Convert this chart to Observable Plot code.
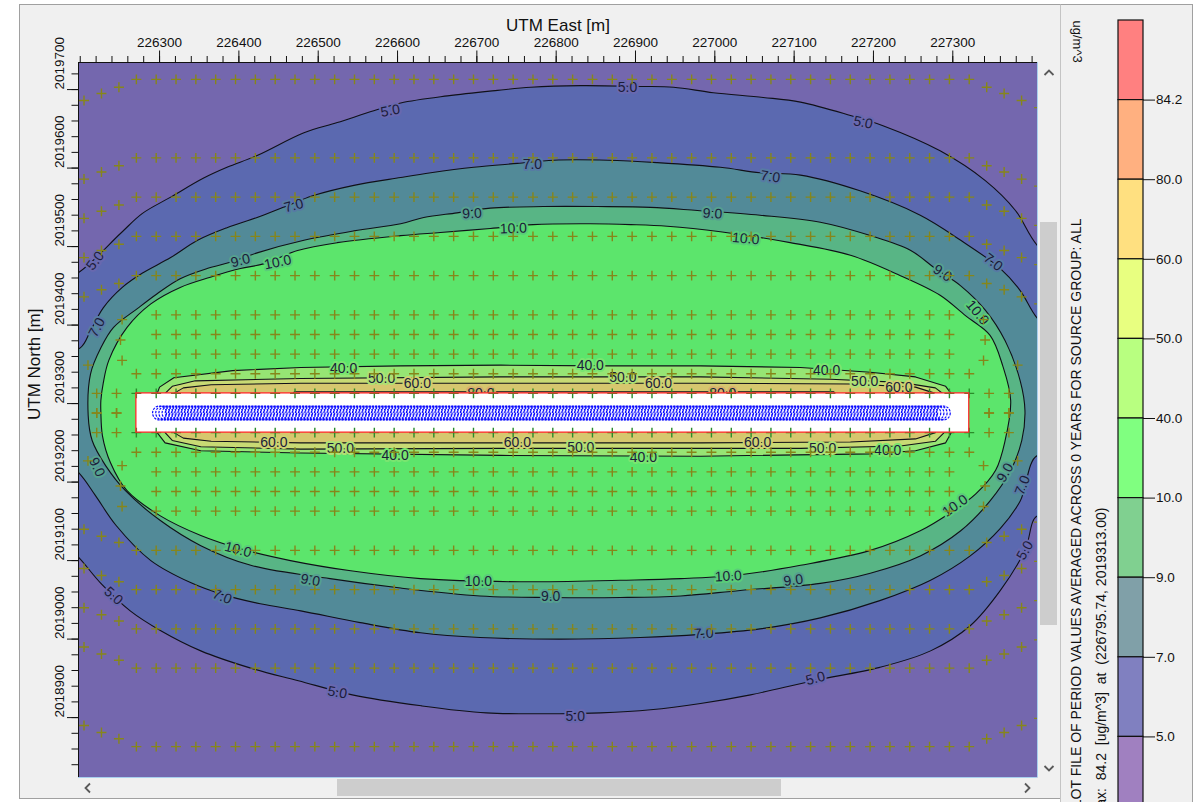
<!DOCTYPE html>
<html>
<head>
<meta charset="utf-8">
<script src="https://cdn.jsdelivr.net/npm/d3@7"></script>
<script src="https://cdn.jsdelivr.net/npm/@observablehq/plot@0.6"></script>
<style>
  html, body { margin: 0; padding: 0; }
  body { position: relative; width: 1201px; height: 802px; overflow: hidden; background: #ffffff;
         font-family: "Liberation Sans", Arial, sans-serif; }
  .abs { position: absolute; box-sizing: border-box; }
  #win { left: 19px; top: 4px; width: 1042px; height: 795px; background: #f0f0f0;
         border-left: 1px solid #a0a0a0; border-top: 1px solid #a0a0a0; border-bottom: 1px solid #a0a0a0; }
  #panel { left: 1060px; top: 4px; width: 133px; height: 798px; background: #f0f0f0;
           border-left: 1px solid #c4c4c4; border-right: 1px solid #a0a0a0; border-top: 1px solid #a0a0a0; }
  #vscroll { left: 1037px; top: 62px; width: 23px; height: 715px; background: #f0f0f0; }
  #vthumb { left: 1040px; top: 222px; width: 17px; height: 403px; background: #cdcdcd; }
  #hscroll { left: 78px; top: 777px; width: 959px; height: 21px; background: #f0f0f0; }
  #hthumb { left: 337px; top: 779px; width: 444px; height: 17px; background: #cdcdcd; }
  #chart { position: absolute; left: 0; top: 0; width: 1037px; height: 777px; }
  #legend { position: absolute; left: 1060px; top: 0; width: 141px; height: 802px; }
  #legend text { white-space: pre; }
</style>
</head>
<body>
<div class="abs" id="win"></div>
<div class="abs" id="panel"></div>
<div class="abs" id="vscroll"></div>
<div class="abs" id="vthumb"></div>
<div class="abs" id="hscroll"></div>
<div class="abs" id="hthumb"></div>
<svg class="abs" style="left:1043px;top:68px" width="12" height="9"><polyline points="1.5,7 6,2.5 10.5,7" fill="none" stroke="#5a5a5a" stroke-width="1.8"/></svg>
<svg class="abs" style="left:1043px;top:764px" width="12" height="9"><polyline points="1.5,2 6,6.5 10.5,2" fill="none" stroke="#5a5a5a" stroke-width="1.8"/></svg>
<svg class="abs" style="left:83px;top:782px" width="9" height="12"><polyline points="7,1.5 2.5,6 7,10.5" fill="none" stroke="#5a5a5a" stroke-width="1.8"/></svg>
<svg class="abs" style="left:1023px;top:782px" width="9" height="12"><polyline points="2,1.5 6.5,6 2,10.5" fill="none" stroke="#5a5a5a" stroke-width="1.8"/></svg>
<div id="chart"></div>
<div id="legend"></div>
<script>
// ---- Concentration levels (ug/m^3) and band colours --------------------------
const levels = [5, 7, 9, 10, 40, 50, 60, 80];
// map fills: below 5, 5-7, 7-9, 9-10, 10-40, 40-50, 50-60, 60-80, above 80
const mapFills = ["#7467ae", "#5b69b0", "#528a98", "#58b585", "#5ce56c", "#96e574", "#c8da74", "#d6c76e", "#d99b6e"];
// legend bands, top to bottom
const legendBands = ["#ff8080", "#ffb080", "#ffe080", "#e8ff80", "#b8ff80", "#80ff80", "#80d090", "#80a0a8", "#8080c0", "#a080c0"];
const legendTicks = ["84.2", "80.0", "60.0", "50.0", "40.0", "10.0", "9.0", "7.0", "5.0"];

// ---- Axis ticks (UTM metres) ---------------------------------------------------
const xMajor = [226300, 226400, 226500, 226600, 226700, 226800, 226900, 227000, 227100, 227200, 227300];
const xMinor = d3.range(226200, 227401, 20);
const yMajor = [2018900, 2019000, 2019100, 2019200, 2019300, 2019400, 2019500, 2019600, 2019700];
const yMinor = d3.range(2018840, 2019721, 20);
const xDomain = [226197.8, 227406.8];
const yDomain = [2018823.7, 2019734.5];

// ---- Contour polygons (UTM east, UTM north) ------------------------------------
const c5 = [[226150,2019444],[226198,2019467],[226251,2019517],[226278,2019542],[226314,2019563],[226355,2019587],[226385,2019601],[226423,2019616],[226482,2019645],[226524,2019658],[226570,2019673],[226604,2019683],[226663,2019692],[226726,2019699],[226768,2019703],[226831,2019705],[226906,2019704],[226948,2019703],[226998,2019696],[227061,2019690],[227108,2019684],[227171,2019667],[227212,2019654],[227284,2019622],[227341,2019584],[227379,2019546],[227407,2019501],[227461,2019457],
  [227461,2019126],[227407,2019157],[227391,2019113],[227360,2019062],[227322,2019017],[227272,2018985],[227208,2018964],[227124,2018947],[227045,2018929],[226982,2018918],[226919,2018910],[226856,2018906],[226804,2018905],[226712,2018906],[226630,2018915],[226543,2018929],[226475,2018947],[226415,2018963],[226352,2018985],[226301,2019011],[226263,2019036],[226226,2019071],[226198,2019104],[226150,2019151]];
const c7 = [[226150,2019355],[226200,2019371],[226213,2019393],[226229,2019422],[226253,2019448],[226278,2019466],[226314,2019486],[226348,2019508],[226385,2019524],[226423,2019537],[226456,2019550],[226494,2019565],[226545,2019578],[226604,2019588],[226642,2019594],[226696,2019601],[226751,2019606],[226797,2019610],[226865,2019610],[226927,2019607],[227007,2019601],[227057,2019594],[227108,2019591],[227183,2019571],[227259,2019540],[227310,2019508],[227360,2019472],[227385,2019444],[227407,2019408],[227461,2019355],
  [227461,2019215],[227407,2019234],[227385,2019176],[227360,2019141],[227322,2019106],[227272,2019075],[227208,2019049],[227133,2019027],[227057,2019013],[226982,2019006],[226906,2019002],[226805,2019000],[226704,2019002],[226629,2019008],[226553,2019021],[226478,2019036],[226427,2019045],[226379,2019057],[226339,2019072],[226289,2019100],[226245,2019145],[226219,2019183],[226198,2019212],[226150,2019253]];
const c9 = [[226210,2019285],[226213,2019338],[226226,2019371],[226242,2019397],[226272,2019421],[226297,2019440],[226326,2019459],[226360,2019472],[226389,2019480],[226423,2019492],[226482,2019508],[226545,2019520],[226604,2019529],[226633,2019537],[226675,2019543],[226717,2019549],[226784,2019551],[226852,2019551],[226919,2019550],[226978,2019546],[227057,2019540],[227133,2019531],[227196,2019514],[227247,2019495],[227278,2019472],[227310,2019450],[227341,2019419],[227366,2019380],[227385,2019329],[227391,2019291],[227387,2019253],[227373,2019215],[227347,2019176],[227310,2019138],[227259,2019106],[227196,2019084],[227133,2019071],[227032,2019062],[226957,2019055],[226881,2019053],[226793,2019053],[226704,2019055],[226604,2019065],[226515,2019077],[226415,2019094],[226352,2019119],[226301,2019151],[226257,2019189],[226232,2019221],[226215,2019253]];
const c10 = [[226226,2019289],[226226,2019304],[226229,2019326],[226236,2019355],[226259,2019397],[226289,2019427],[226326,2019448],[226364,2019461],[226402,2019472],[226431,2019478],[226474,2019495],[226524,2019505],[226604,2019514],[226654,2019518],[226717,2019523],[226771,2019528],[226843,2019529],[226894,2019528],[226940,2019526],[227007,2019519],[227095,2019505],[227171,2019489],[227234,2019463],[227284,2019438],[227316,2019412],[227347,2019387],[227363,2019348],[227373,2019304],[227366,2019253],[227354,2019215],[227329,2019185],[227297,2019161],[227259,2019138],[227196,2019113],[227108,2019094],[227032,2019082],[226957,2019077],[226881,2019075],[226755,2019073],[226629,2019077],[226541,2019087],[226465,2019100],[226402,2019115],[226352,2019132],[226301,2019157],[226259,2019189],[226238,2019225],[226228,2019259]];
const c40 = [[226297,2019313],[226300,2019321],[226318,2019333],[226392,2019342],[226478,2019346],[226604,2019348],[226730,2019349],[226856,2019348],[226982,2019348],[227108,2019346],[227196,2019340],[227253,2019334],[227291,2019322],[227303,2019306],[227303,2019272],[227291,2019250],[227253,2019240],[227196,2019236],[226982,2019233],[226730,2019234],[226478,2019237],[226352,2019240],[226307,2019250],[226297,2019263]];
const c50 = [[226307,2019313],[226316,2019322],[226345,2019329],[226478,2019332],[226730,2019334],[226982,2019334],[227146,2019331],[227234,2019327],[227278,2019320],[227291,2019310],[227291,2019265],[227278,2019252],[227234,2019246],[227108,2019243],[226730,2019243],[226478,2019242],[226352,2019245],[226316,2019253],[226307,2019263]];
const c60 = [[226318,2019313],[226330,2019320],[226365,2019324],[226478,2019326],[226982,2019326],[227171,2019325],[227253,2019321],[227278,2019313],[227278,2019263],[227253,2019255],[227171,2019251],[226982,2019250],[226478,2019250],[226365,2019252],[226330,2019256],[226318,2019263]];
const c80 = [[226455,2019300],[226470,2019315],[227150,2019315],[227165,2019300],[227165,2019275],[226455,2019275]];
const contours = [c5, c7, c9, c10, c40, c50, c60, c80];

// ---- Contour labels: [level, east, north, angle] -------------------------------
const contourLabels = [
  [5,226219,2019482,-52],[5,226591,2019673,-10],[5,226890,2019703,0],[5,227187,2019658,12],[5,227391,2019113,-60],[5,227127,2018950,-15],[5,226824,2018902,0],[5,226524,2018932,10],[5,226242,2019055,42],
  [7,226221,2019397,-62],[7,226469,2019552,-15],[7,226770,2019605,0],[7,227070,2019589,8],[7,227351,2019480,38],[7,227388,2019196,-69],[7,226986,2019007,-3],[7,226379,2019054,22],
  [9,226402,2019482,-15],[9,226694,2019542,-3],[9,226997,2019542,3],[9,227287,2019466,34],[9,227366,2019212,-60],[9,227099,2019075,-8],[9,226793,2019054,0],[9,226490,2019075,10],[9,226221,2019219,65],
  [10,226449,2019480,-12],[10,226746,2019523,-2],[10,227039,2019510,5],[10,227331,2019416,50],[10,227303,2019170,-35],[10,227017,2019080,-3],[10,226702,2019073,0],[10,226399,2019114,15],
  [40,226532,2019345,0],[40,226843,2019348,0],[40,227141,2019342,0],[40,227218,2019240,0],[40,226910,2019231,0],[40,226597,2019234,0],
  [50,226580,2019332,0],[50,226884,2019333,0],[50,227189,2019328,0],[50,226528,2019243,0],[50,226831,2019244,0],[50,227136,2019243,0],
  [60,226625,2019326,0],[60,226929,2019326,0],[60,227232,2019320,0],[60,226444,2019250,0],[60,226751,2019250,0],[60,227054,2019250,0],
  [80,226705,2019313,0],[80,227010,2019313,0]
];

// ---- Road (line source area) and receptors --------------------------------------
const road = {x1: 226270.75, x2: 227320.75, y1: 2019263, y2: 2019313};
const roadMid = 2019288;
const receptorCols = d3.range(road.x1, road.x2 + 1, 25);          // every 25 m along the road
const fullRows = [2019338, 2019463, 2019513, 2019563, 2019613, 2019713,
                  2019238, 2019113, 2019063, 2019013, 2018963, 2018863];
const innerRows = [2019363, 2019388, 2019413, 2019213, 2019188, 2019163];
const outerRows = [2019463, 2019513, 2019563, 2019613, 2019713, 2019113, 2019063, 2019013, 2018963, 2018863];
const cornerSteps = [[22, 10], [44, 18], [66, 27], [88, 36]];     // outward, toward road axis
const endExtras = [[18, 119], [20, 93], [18, 67], [61, 61], [25, 25], [50, 25], [25, 0], [50, 0]];
const sourceEast = d3.range(226300, 227291, 4);                    // volume sources along the road

const receptors = [];
for (const y of fullRows) for (const x of receptorCols) receptors.push([x, y]);
for (const y of innerRows) for (const x of receptorCols.slice(1, -1)) receptors.push([x, y]);
for (const y of outerRows) {
  const s = y > roadMid ? -1 : 1;
  for (const [dx, dy] of cornerSteps) receptors.push([road.x1 - dx, y + s * dy], [road.x2 + dx, y + s * dy]);
}
for (const [dx, dy] of endExtras) for (const s of [1, -1])
  receptors.push([road.x1 - dx, roadMid + s * dy], [road.x2 + dx, roadMid + s * dy]);
const edgeReceptors = [];
for (const y of [road.y1, road.y2]) for (const x of receptorCols) edgeReceptors.push([x, y]);

const font = "'Liberation Sans', Arial, sans-serif";

const chart = Plot.plot({
  width: 1037, height: 777,
  marginLeft: 78, marginRight: 0, marginTop: 62, marginBottom: 0,
  x: {domain: xDomain},
  y: {domain: yDomain},
  style: {background: "transparent", fontFamily: font, fontSize: "13.5px", color: "#111", overflow: "visible"},
  marks: [
    Plot.frame({fill: mapFills[0]}),
    ...contours.map((c, i) => Plot.line(c, {
      x: d => d[0], y: d => d[1], fill: mapFills[i + 1], stroke: "#101018", strokeWidth: 1.1,
      curve: i < 4 ? "catmull-rom-closed" : "linear-closed", clip: true
    })),
    ...levels.map((lv, i) => Plot.text(contourLabels.filter(d => d[0] === lv), {
      x: d => d[1], y: d => d[2], rotate: d => d[3], text: d => d[0].toFixed(1),
      fontSize: 14, fill: "#1c1c3a", stroke: d3.interpolateRgb(mapFills[i], mapFills[i + 1])(0.5),
      strokeWidth: 4, paintOrder: "stroke", clip: true
    })),
    Plot.dot(receptors, {x: d => d[0], y: d => d[1], symbol: "plus", r: 3.3, stroke: "#86861a", strokeWidth: 1.4, clip: true}),
    Plot.rect([road], {x1: "x1", x2: "x2", y1: "y1", y2: "y2", fill: "white"}),
    Plot.dot(edgeReceptors, {x: d => d[0], y: d => d[1], symbol: "plus", r: 3.3, stroke: "#2a8c2a", strokeWidth: 1.4}),
    Plot.rect([road], {x1: "x1", x2: "x2", y1: "y1", y2: "y2", fill: "none", stroke: "#ff2a2a", strokeWidth: 1.3}),
    Plot.dot(sourceEast, {x: d => d, y: () => roadMid, r: 7, stroke: "#0a0aff", strokeWidth: 1.2, strokeDasharray: "2.4,1.2"}),
    Plot.ruleY([yDomain[0]], {stroke: "#a8cfee"}),
    Plot.ruleX([xDomain[1]], {stroke: "#a8cfee"}),
    Plot.ruleY([yDomain[1]], {stroke: "#111"}),
    Plot.ruleX([xDomain[0]], {stroke: "#111"}),
    Plot.axisX(xMinor, {anchor: "top", tickSize: 7, tickFormat: () => "", label: null}),
    Plot.axisX(xMajor, {anchor: "top", tickSize: 12.5, tickPadding: 3, tickFormat: d => `${d}`, fontSize: 13.5, label: null}),
    Plot.axisY(yMinor, {anchor: "left", tickSize: 6.5, tickFormat: () => "", label: null}),
    Plot.axisY(yMajor, {anchor: "left", tickSize: 11, tickFormat: () => "", label: null}),
    Plot.text(yMajor, {y: d => d, text: d => `${d}`, frameAnchor: "left", dx: -15, rotate: -90, lineAnchor: "bottom", fontSize: 13.5}),
    Plot.text(["UTM East [m]"], {text: d => d, frameAnchor: "top", dy: -44, fontSize: 17}),
    Plot.text(["UTM North [m]"], {text: d => d, frameAnchor: "left", dx: -44, rotate: -90, fontSize: 17})
  ]
});
document.getElementById("chart").append(chart);

// ---- Legend panel -------------------------------------------------------------
const unitText = "ug/m^3";
const titleText = "PLOT FILE OF PERIOD VALUES AVERAGED ACROSS 0 YEARS FOR SOURCE GROUP: ALL";
const maxText = "Max:  84.2  [ug/m^3]  at  (226795.74, 2019313.00)";

const legend = Plot.plot({
  width: 141, height: 802,
  marginLeft: 58, marginRight: 58, marginTop: 20, marginBottom: 0,
  x: {domain: [0, 1], axis: null},
  y: {domain: [0, 9.824], range: [20, 802], axis: null},
  color: {type: "identity"},
  style: {background: "transparent", fontFamily: font, fontSize: "13.5px", color: "#111", overflow: "visible"},
  marks: [
    Plot.rect(legendBands, {x1: () => 0, x2: () => 1, y1: (d, i) => i, y2: (d, i) => i + 1, fill: d => d, stroke: "#111", strokeWidth: 1.2}),
    Plot.ruleY(legendTicks, {y: (d, i) => i + 1, x1: () => 1, x2: () => 1.48, stroke: "#111"}),
    Plot.text(legendTicks, {y: (d, i) => i + 1, x: () => 1.5, text: d => d, textAnchor: "start", fontSize: 13.5}),
    Plot.text([unitText], {text: d => d, frameAnchor: "top-left", dx: -41, rotate: 90, textAnchor: "start", lineAnchor: "middle", fontSize: 13}),
    Plot.text([titleText], {text: d => d, frameAnchor: "top-left", dx: -42, dy: 198, rotate: -90, textAnchor: "end", lineAnchor: "middle", fontSize: 14}),
    Plot.text([maxText], {text: d => d, frameAnchor: "top-left", dx: -17, dy: 487, rotate: -90, textAnchor: "end", lineAnchor: "middle", fontSize: 14})
  ]
});
document.getElementById("legend").append(legend);
</script>
</body>
</html>
